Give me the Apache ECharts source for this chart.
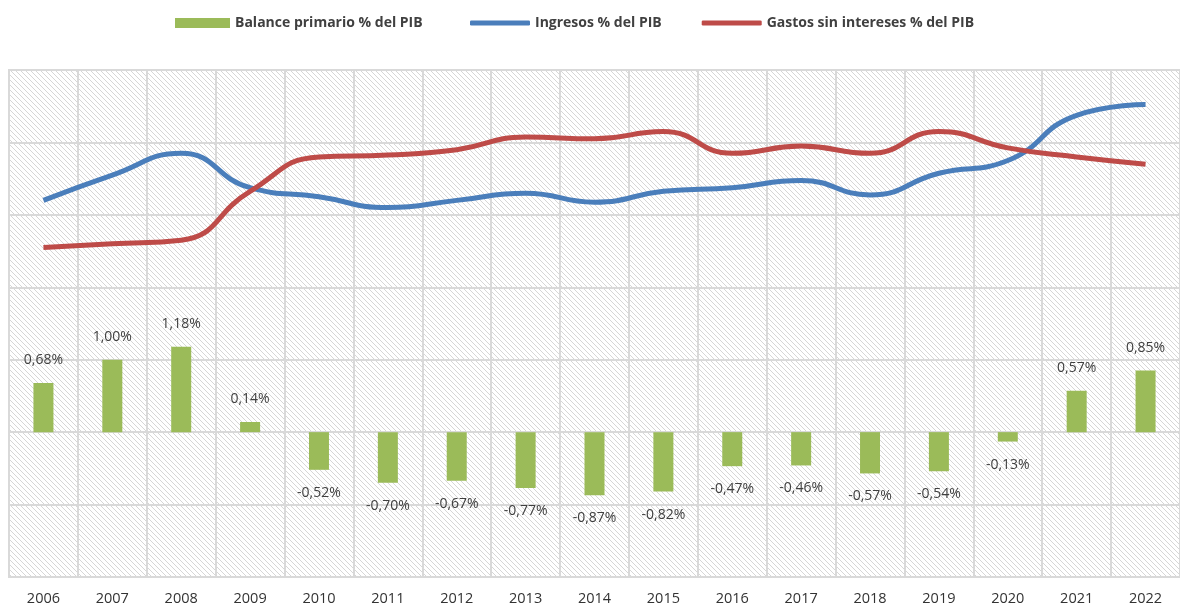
<!DOCTYPE html>
<html>
<head>
<meta charset="utf-8">
<script src="https://cdn.jsdelivr.net/npm/echarts@6/dist/echarts.min.js"></script>
<style>
  html, body { margin: 0; padding: 0; background: #fff; }
  #chart { width: 1180px; height: 609px; }
</style>
</head>
<body>
<div id="chart"></div>
<script>
const years = ['2006', '2007', '2008', '2009', '2010', '2011', '2012', '2013', '2014',
    '2015', '2016', '2017', '2018', '2019', '2020', '2021', '2022']
const balance = [0.68, 1.00, 1.18, 0.14, -0.52, -0.70, -0.67, -0.77, -0.87,
    -0.82, -0.47, -0.46, -0.57, -0.54, -0.13, 0.57, 0.85]
const ingresos = [20.8, 22.2, 23.4, 21.5, 21.0, 20.4, 20.8, 21.2, 20.7,
    21.3, 21.5, 21.9, 21.1, 22.3, 23.0, 25.5, 26.1]
const gastos = [18.2, 18.4, 18.6, 21.3, 23.2, 23.3, 23.6, 24.3, 24.2,
    24.6, 23.4, 23.8, 23.4, 24.6, 23.7, 23.2, 22.8]

// diagonal hatch for plot background
function hatch() {
    const c = document.createElement('canvas')
    c.width = 5
    c.height = 5
    const ctx = c.getContext('2d')
    ctx.fillStyle = '#ffffff'
    ctx.fillRect(0, 0, 5, 5)
    ctx.strokeStyle = '#d6d6d6'
    ctx.lineWidth = 1
    ctx.beginPath()
    ctx.moveTo(-1, -1); ctx.lineTo(6, 6)
    ctx.moveTo(-1, 4); ctx.lineTo(1, 6)
    ctx.moveTo(4, -1); ctx.lineTo(6, 1)
    ctx.stroke()
    return c
}

const pct = v => v.toFixed(2).replace('.', ',') + '%'
const gridGray = '#d9d9d9'
const txt = '#404040'
const font = 'Open Sans'
const legendText = { fontSize: 14, color: txt, fontWeight: 'bold', fontFamily: font }

let myChart = echarts.init(document.getElementById('chart'))
let option = {
    animation: false,
    textStyle: { fontFamily: font },
    legend: [
        {
            top: 11,
            left: 170,
            itemWidth: 55,
            itemHeight: 10,
            textStyle: legendText,
            data: [{ name: 'Balance primario % del PIB', icon: 'rect' }]
        },
        {
            top: 11,
            left: 465,
            itemGap: 40,
            itemWidth: 60,
            itemHeight: 5,
            textStyle: legendText,
            data: [
                { name: 'Ingresos % del PIB', icon: 'roundRect' },
                { name: 'Gastos sin intereses % del PIB', icon: 'roundRect' }
            ]
        }
    ],
    grid: {
        left: 9,
        top: 70,
        width: 1180,
        height: 507,
        show: true,
        backgroundColor: { image: hatch(), repeat: 'repeat' },
        borderColor: gridGray,
        borderWidth: 2
    },
    xAxis: {
        type: 'category',
        data: years,
        boundaryGap: true,
        axisLine: { lineStyle: { color: gridGray, width: 2 } },
        axisTick: { show: false },
        splitLine: { show: true, lineStyle: { color: gridGray, width: 2 } },
        axisLabel: { color: '#333', fontSize: 14.5, margin: 14, fontFamily: font }
    },
    yAxis: [
        {
            type: 'value',
            min: -2,
            max: 5,
            interval: 1,
            axisLabel: { show: false },
            axisLine: { show: false },
            axisTick: { show: false },
            splitLine: { lineStyle: { color: gridGray, width: 2 } }
        },
        {
            type: 'value',
            min: 0,
            max: 28,
            show: false,
            splitLine: { show: false }
        }
    ],
    series: [
        {
            name: 'Balance primario % del PIB',
            type: 'bar',
            data: balance,
            barWidth: 20,
            itemStyle: { color: '#9BBB59' },
            label: {
                show: true,
                color: txt,
                fontSize: 14,
                fontFamily: font,
                distance: 16,
                formatter: p => pct(p.value)
            }
        },
        {
            name: 'Ingresos % del PIB',
            type: 'line',
            yAxisIndex: 1,
            data: ingresos,
            smooth: 0.5,
            symbol: 'none',
            lineStyle: { color: '#4A7EBB', width: 5 },
            itemStyle: { color: '#4A7EBB' }
        },
        {
            name: 'Gastos sin intereses % del PIB',
            type: 'line',
            yAxisIndex: 1,
            data: gastos,
            smooth: 0.5,
            symbol: 'none',
            lineStyle: { color: '#BE4B48', width: 5 },
            itemStyle: { color: '#BE4B48' }
        }
    ]
}

// negative bars get their label underneath
option.series[0].data = balance.map(v => ({
    value: v,
    label: { position: v < 0 ? 'bottom' : 'top' }
}))

myChart.setOption(option)
</script>
</body>
</html>
